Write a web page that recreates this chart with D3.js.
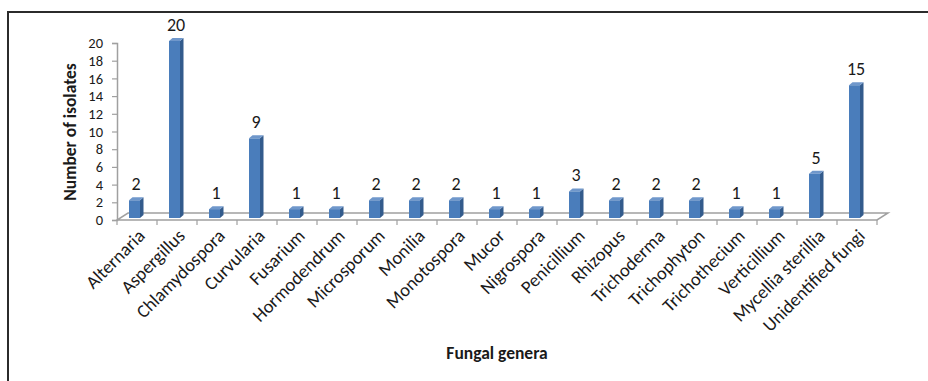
<!DOCTYPE html>
<html>
<head>
<meta charset="utf-8">
<script src="https://cdn.jsdelivr.net/npm/d3@7"></script>
<style>
  html, body { margin: 0; padding: 0; background: #fff; }
  svg { display: block; }
  text { font-family: Carlito, Calibri, Lato, "Open Sans", sans-serif; fill: #1a1a1a; }
</style>
</head>
<body>
<svg id="chart" width="928" height="381"></svg>
<script>
// Fungal genera and their isolate counts
const categories = [
  "Alternaria", "Aspergillus", "Chlamydospora", "Curvularia", "Fusarium",
  "Hormodendrum", "Microsporum", "Monilia", "Monotospora", "Mucor",
  "Nigrospora", "Penicillium", "Rhizopus", "Trichoderma", "Trichophyton",
  "Trichothecium", "Verticillium", "Mycellia sterillia", "Unidentified fungi"
];
const isolates = [2, 20, 1, 9, 1, 1, 2, 2, 2, 1, 1, 3, 2, 2, 2, 1, 1, 5, 15];
const yTicks = [0, 2, 4, 6, 8, 10, 12, 14, 16, 18, 20];

const svg = d3.select("#chart");

// outer frame
svg.append("rect")
  .attr("x", 8).attr("y", 12).attr("width", 960).attr("height", 420)
  .attr("fill", "none").attr("stroke", "#2b2b2b").attr("stroke-width", 2);

const plotLeft = 117, plotRight = 877, floorY = 220;
const depthX = 11, depthY = 7;

const x = d3.scaleBand().domain(categories).range([plotLeft, plotRight]).padding(0);
const y = d3.scaleLinear().domain([0, 20]).range([floorY, 43]);

const grey = "#a0a0a0";

// floor of the 3D plot
svg.append("path")
  .attr("d", `M${plotLeft},${floorY} L${plotRight},${floorY} L${plotRight + depthX},${floorY - depthY} L${plotLeft + depthX},${floorY - depthY} Z`)
  .attr("fill", "#fff").attr("stroke", grey).attr("stroke-width", 1.5);

// value axis
const yAxis = d3.axisLeft(y).tickValues(yTicks).tickSize(5).tickPadding(9);
const gy = svg.append("g").attr("transform", `translate(${plotLeft},0)`).call(yAxis);
gy.select(".domain").attr("stroke", grey).attr("stroke-width", 1.5);
gy.selectAll(".tick line").attr("stroke", grey).attr("stroke-width", 1.2);
gy.selectAll(".tick text").attr("font-size", 14.5).attr("fill", "#1a1a1a")
  .style("font-family", "Carlito, Calibri, Lato, sans-serif");

// category boundary ticks under the floor front edge
const boundaries = d3.range(categories.length + 1).map(i => plotLeft + i * x.step());
svg.append("g").selectAll("line").data(boundaries).join("line")
  .attr("x1", d => d).attr("x2", d => d)
  .attr("y1", floorY).attr("y2", floorY + 5)
  .attr("stroke", grey).attr("stroke-width", 1.2);

// 3D bars: front face, side face, top face
const data = categories.map((c, i) => ({ cat: c, v: isolates[i] }));
const barW = 11, sideX = 3.5, sideY = 3, lift = 2;
const bars = svg.append("g").selectAll("g").data(data).join("g");
bars.each(function(d) {
  const g = d3.select(this);
  const c = x(d.cat) + x.bandwidth() / 2;
  const x0 = c - 8, x1 = x0 + barW;
  const yb = y(0) - lift, yt = y(d.v) - lift;
  g.append("path")
    .attr("d", `M${x1},${yb} L${x1 + sideX},${yb - sideY} L${x1 + sideX},${yt - sideY} L${x1},${yt} Z`)
    .attr("fill", "#335b8c");
  g.append("path")
    .attr("d", `M${x0},${yt} L${x0 + sideX},${yt - sideY} L${x1 + sideX},${yt - sideY} L${x1},${yt} Z`)
    .attr("fill", "#6f97cb");
  g.append("rect")
    .attr("x", x0).attr("y", yt).attr("width", barW).attr("height", yb - yt)
    .attr("fill", "#4a7dbb");
  g.append("text")
    .attr("x", c - 1).attr("y", yt - 10)
    .attr("text-anchor", "middle").attr("font-size", 18)
    .text(d.v);
});

// rotated category labels
svg.append("g").selectAll("text").data(categories).join("text")
  .attr("transform", d => `translate(${x(d) + x.bandwidth() / 2 + 9},${floorY + 17}) rotate(-45)`)
  .attr("text-anchor", "end").attr("font-size", 18.5)
  .text(d => d);

// axis titles
svg.append("text")
  .attr("transform", `translate(76,132) rotate(-90)`)
  .attr("text-anchor", "middle").attr("font-size", 17.5).attr("font-weight", "bold")
  .text("Number of isolates");

svg.append("text")
  .attr("x", 497).attr("y", 359)
  .attr("text-anchor", "middle").attr("font-size", 17.5).attr("font-weight", "bold")
  .text("Fungal genera");
</script>
</body>
</html>
